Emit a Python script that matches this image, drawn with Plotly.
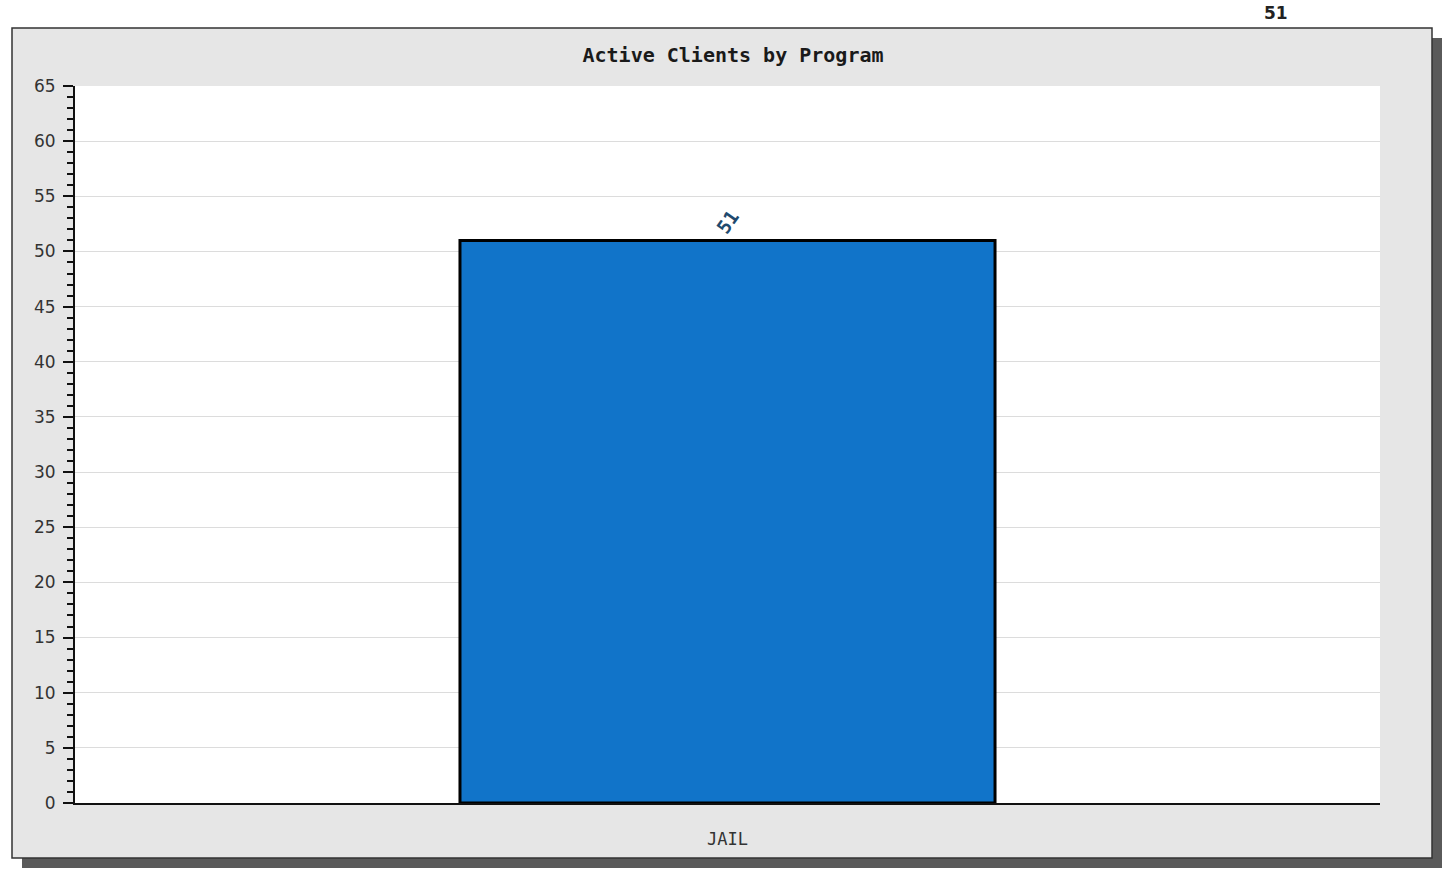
import plotly.graph_objects as go

# Chart data
programs = ["JAIL"]
active_clients = [51]
chart_title = "Active Clients by Program"
corner_note = "51"

W, H = 1451, 878
L, R, T, B = 75, 71, 86, 75
pw, ph = W - L - R, H - T - B


def px_x(px):
    return (px - L) / pw


def px_y(py):
    return (H - B - py) / ph


fig = go.Figure()
fig.add_trace(go.Bar(
    x=programs,
    y=active_clients,
    width=0.41,
    marker=dict(color="#1174c9", line=dict(color="#000000", width=3)),
    text=["<b>" + str(v) + "</b>" for v in active_clients],
    textposition="outside",
    textangle=-55,
    textfont=dict(family="DejaVu Sans Mono", size=19, color="#1f4a6e"),
    cliponaxis=False,
    hoverinfo="x+y",
))

shapes = [
    # drop shadow of the panel
    dict(type="rect", xref="paper", yref="paper", layer="below",
         x0=px_x(22), x1=px_x(1442), y0=px_y(868), y1=px_y(38),
         fillcolor="#5a5a5a", line=dict(width=0)),
    # gray panel
    dict(type="rect", xref="paper", yref="paper", layer="below",
         x0=px_x(12), x1=px_x(1432), y0=px_y(858), y1=px_y(28),
         fillcolor="#e6e6e6", line=dict(color="#333333", width=1.5)),
    # white plotting area
    dict(type="rect", xref="paper", yref="paper", layer="below",
         x0=0, x1=1, y0=0, y1=1,
         fillcolor="#ffffff", line=dict(width=0)),
]

fig.update_layout(
    width=W, height=H,
    margin=dict(l=L, r=R, t=T, b=B, autoexpand=False),
    paper_bgcolor="#ffffff",
    plot_bgcolor="#ffffff",
    showlegend=False,
    shapes=shapes,
    title=dict(
        text="<b>" + chart_title + "</b>",
        x=733 / W, xanchor="center",
        y=1 - 55 / H, yanchor="middle",
        font=dict(family="DejaVu Sans Mono", size=20, color="#1a1a1a"),
    ),
    annotations=[dict(
        text="<b>" + corner_note + "</b>", xref="paper", yref="paper",
        x=px_x(1290), y=px_y(13), yanchor="middle", showarrow=False,
        font=dict(family="DejaVu Sans", size=17, color="#222222"),
    )],
    xaxis=dict(
        range=[-0.5, 0.5],
        showgrid=False,
        showline=True, linecolor="#111111", linewidth=2,
        ticks="",
        ticklabelstandoff=20,
        tickfont=dict(family="DejaVu Sans Mono", size=17, color="#333333"),
        zeroline=False,
    ),
    yaxis=dict(
        range=[0, 65],
        dtick=5, tick0=0,
        showgrid=True, gridcolor="#dcdcdc", gridwidth=1,
        showline=True, linecolor="#111111", linewidth=2,
        ticks="outside", ticklen=10, tickwidth=2, tickcolor="#111111",
        minor=dict(dtick=1, ticks="outside", ticklen=6, tickwidth=2,
                   tickcolor="#111111", showgrid=False),
        ticklabelstandoff=4,
        tickfont=dict(family="DejaVu Sans", size=17, color="#333333"),
        zeroline=False,
    ),
)

fig.write_html("out.html")
